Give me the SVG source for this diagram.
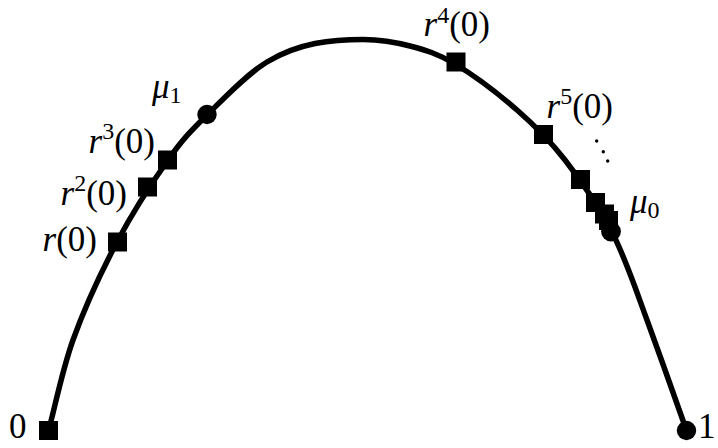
<svg xmlns="http://www.w3.org/2000/svg" width="718" height="448" viewBox="0 0 718 448">
<style>
.lbl{font-size:35px;fill:#000}
.it{font-style:italic}
.sup{font-size:24px}
.sq{fill:#000}
.pt{fill:#000}
.curve{fill:none;stroke:#000;stroke-width:5.5;stroke-linecap:butt;stroke-linejoin:round}
</style>
<rect width="718" height="448" fill="#fff"/>
<g id="connectors">
<path class="curve" d="M48.5,430.5 C53,415.8 61.67,371.5 73,340 C84.33,308.5 101.17,272 117,242 C132.83,212 153,181.17 168,160 C183,138.83 190.5,131.33 207,115 C223.5,98.67 247,74 267,62 C285,51 300,46.5 315,43.5 C331,40.5 347.17,39.5 363,39.5 C378.83,39.67 394.67,41.92 410,46 C425.33,50.08 437.17,53.33 455,64 C472.83,74.67 498.67,94 517,110 C535.33,126 549.17,139.67 565,160 C580.83,180.33 598.33,205.33 612,232 C625.67,258.67 634.83,286.83 647,320 C659.17,353.17 680.17,412.5 686.5,430.5"/>
</g>
<g id="node-0">
<rect class="sq" x="39" y="421" width="19" height="19"/>
<text class="lbl" font-family="Liberation Serif, serif" x="9" y="438">0</text>
</g>
<g id="node-1">
<circle class="pt" cx="686.5" cy="430.5" r="9.7"/>
<text class="lbl" font-family="Liberation Serif, serif" x="698" y="438">1</text>
</g>
<g id="node-r1">
<rect class="sq" x="108" y="232.5" width="19" height="19"/>
<text class="lbl" font-family="Liberation Serif, serif" x="97" y="251" text-anchor="end"><tspan class="it">r</tspan>(0)</text>
</g>
<g id="node-r2">
<rect class="sq" x="138" y="177.5" width="19" height="19"/>
<text class="lbl" font-family="Liberation Serif, serif" x="127" y="205" text-anchor="end"><tspan class="it">r</tspan><tspan class="sup" dy="-14">2</tspan><tspan dy="14">(0)</tspan></text>
</g>
<g id="node-r3">
<rect class="sq" x="158" y="150.5" width="19" height="19"/>
<text class="lbl" font-family="Liberation Serif, serif" x="155" y="153" text-anchor="end"><tspan class="it">r</tspan><tspan class="sup" dy="-14">3</tspan><tspan dy="14">(0)</tspan></text>
</g>
<g id="node-mu1">
<circle class="pt" cx="207" cy="114.5" r="9.7"/>
<text class="lbl" font-family="Liberation Serif, serif" x="152" y="98"><tspan class="it">μ</tspan><tspan class="sup" dy="5">1</tspan></text>
</g>
<g id="node-r4">
<rect class="sq" x="446.5" y="52.5" width="19" height="19"/>
<text class="lbl" font-family="Liberation Serif, serif" x="490" y="36" text-anchor="end"><tspan class="it">r</tspan><tspan class="sup" dy="-13">4</tspan><tspan dy="13">(0)</tspan></text>
</g>
<g id="node-r5">
<rect class="sq" x="534" y="125" width="19" height="19"/>
<text class="lbl" font-family="Liberation Serif, serif" x="613" y="118" text-anchor="end"><tspan class="it">r</tspan><tspan class="sup" dy="-14">5</tspan><tspan dy="14">(0)</tspan></text>
</g>
<g id="node-r6">
<rect class="sq" x="571" y="170" width="19" height="19"/>
</g>
<g id="node-r7">
<rect class="sq" x="586" y="193" width="19" height="19"/>
</g>
<g id="node-r8">
<rect class="sq" x="595" y="204.5" width="19" height="19"/>
</g>
<g id="node-r9">
<rect class="sq" x="599" y="211" width="19" height="19"/>
</g>
<g id="node-dots">
<circle class="pt" cx="596.7" cy="141" r="1.7"/>
<circle class="pt" cx="603.3" cy="151.7" r="1.7"/>
<circle class="pt" cx="607.7" cy="161" r="1.7"/>
</g>
<g id="node-mu0">
<circle class="pt" cx="611" cy="231.5" r="9.9"/>
<text class="lbl" font-family="Liberation Serif, serif" x="630" y="213"><tspan class="it">μ</tspan><tspan class="sup" dy="5">0</tspan></text>
</g>
</svg>
